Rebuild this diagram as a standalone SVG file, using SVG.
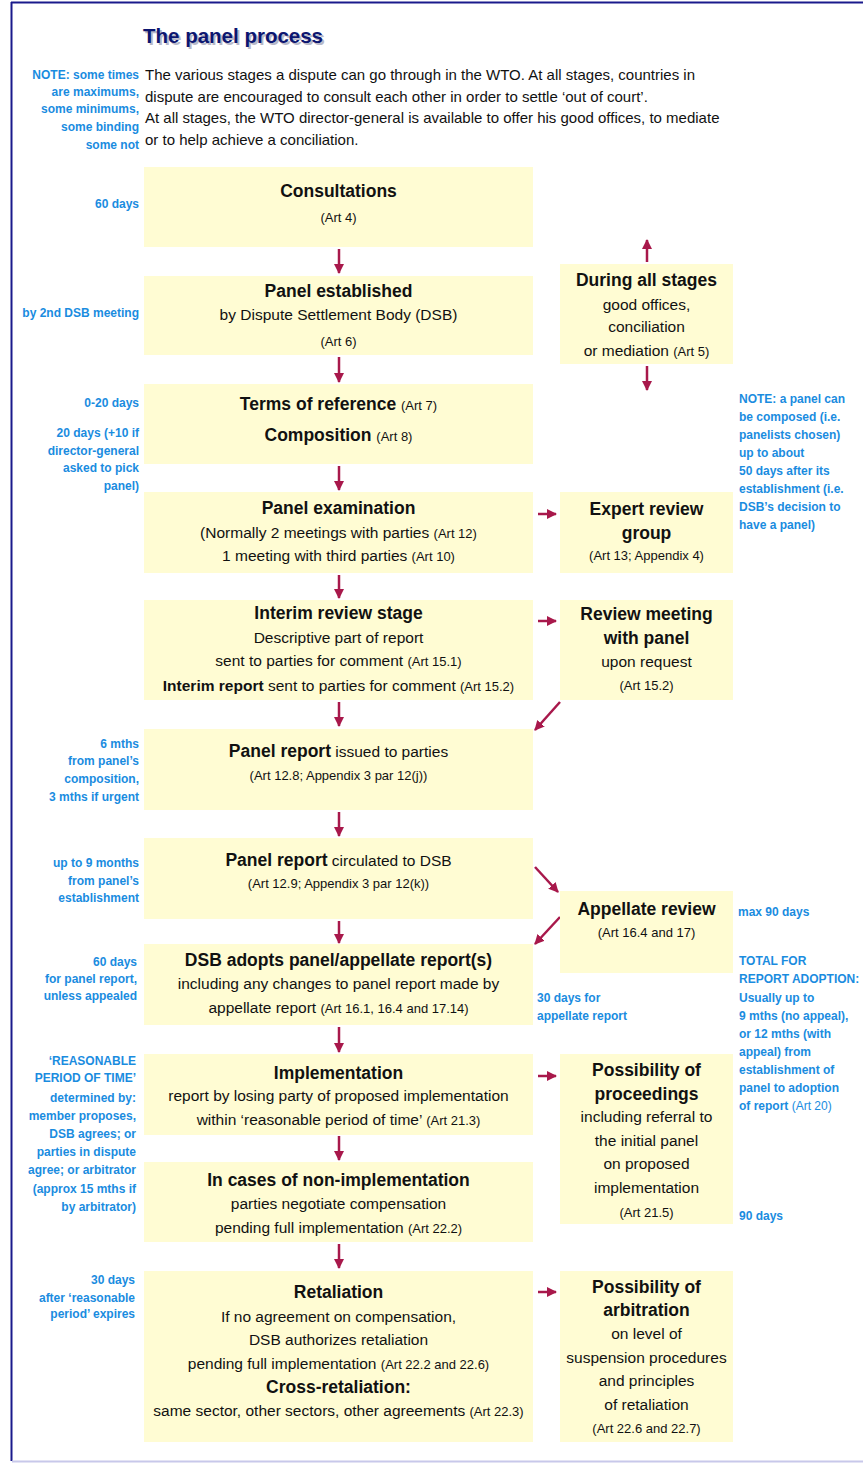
<svg xmlns="http://www.w3.org/2000/svg" width="863" height="1463" viewBox="0 0 863 1463">
<style>
.bx{fill:#FFFCD3}
.h{font-family:"Liberation Sans",Arial,sans-serif;font-weight:bold;font-size:17.5px;fill:#111;text-anchor:middle}
.t{font-family:"Liberation Sans",Arial,sans-serif;font-size:15.5px;fill:#111;text-anchor:middle}
.a{font-size:13px;font-weight:normal}
.b{font-weight:bold;font-size:17.5px}
.in{font-family:"Liberation Sans",Arial,sans-serif;font-size:15px;fill:#111}
.nl{font-family:"Liberation Sans",Arial,sans-serif;font-weight:bold;font-size:12px;fill:#1A8CDF;text-anchor:end}
.nr{font-family:"Liberation Sans",Arial,sans-serif;font-weight:bold;font-size:12px;fill:#1A8CDF;text-anchor:start}
.ar{stroke:#A8184B;stroke-width:2.5;fill:none;marker-end:url(#ah)}
</style>
<defs>
<marker id="ah" markerUnits="userSpaceOnUse" markerWidth="12" markerHeight="12" refX="9" refY="5" orient="auto">
<path d="M0,0 L10,5 L0,10 Z" fill="#A8184B"/>
</marker>
</defs>
<rect x="0" y="0" width="863" height="1463" fill="#ffffff"/>
<g id="frame">
<line x1="11" y1="2.5" x2="863" y2="2.5" stroke="#1A1A8C" stroke-width="2"/>
<line x1="11.5" y1="2" x2="11.5" y2="1461" stroke="#1A1A8C" stroke-width="2"/>
<line x1="12" y1="1461.5" x2="863" y2="1461.5" stroke="#C8C8EA" stroke-width="2"/>
</g>
<g id="title">
<text x="145" y="45" font-family="Liberation Sans,Arial,sans-serif" font-weight="bold" font-size="20.5" fill="#B8B8C8">The panel process</text>
<text x="143" y="43" font-family="Liberation Sans,Arial,sans-serif" font-weight="bold" font-size="20.5" fill="#0C1670">The panel process</text>
</g>
<g id="intro">
<text class="in" x="145" y="80">The various stages a dispute can go through in the WTO. At all stages, countries in</text>
<text class="in" x="145" y="102">dispute are encouraged to consult each other in order to settle ‘out of court’.</text>
<text class="in" x="145" y="123">At all stages, the WTO director-general is available to offer his good offices, to mediate</text>
<text class="in" x="145" y="145">or to help achieve a conciliation.</text>
<text class="nl" x="139" y="79">NOTE: some times</text>
<text class="nl" x="139" y="96">are maximums,</text>
<text class="nl" x="139" y="113">some minimums,</text>
<text class="nl" x="139" y="131">some binding</text>
<text class="nl" x="139" y="149">some not</text>
</g>
<g id="connectors">
<line class="ar" x1="339" y1="249" x2="339" y2="273"/>
<line class="ar" x1="339" y1="357" x2="339" y2="382"/>
<line class="ar" x1="339" y1="466" x2="339" y2="490"/>
<line class="ar" x1="339" y1="575" x2="339" y2="598"/>
<line class="ar" x1="339" y1="702" x2="339" y2="726"/>
<line class="ar" x1="339" y1="812" x2="339" y2="836"/>
<line class="ar" x1="339" y1="921" x2="339" y2="943"/>
<line class="ar" x1="339" y1="1027" x2="339" y2="1052"/>
<line class="ar" x1="339" y1="1136" x2="339" y2="1160"/>
<line class="ar" x1="339" y1="1244" x2="339" y2="1268"/>
<line class="ar" x1="647" y1="262" x2="647" y2="240"/>
<line class="ar" x1="647" y1="366" x2="647" y2="390"/>
<line class="ar" x1="538" y1="514" x2="556" y2="514"/>
<line class="ar" x1="538" y1="621" x2="556" y2="621"/>
<line class="ar" x1="560" y1="702" x2="535" y2="730"/>
<line class="ar" x1="535" y1="867" x2="558" y2="892"/>
<line class="ar" x1="560" y1="917" x2="535" y2="944"/>
<line class="ar" x1="538" y1="1076" x2="556" y2="1076"/>
<line class="ar" x1="538" y1="1292" x2="556" y2="1292"/>
</g>
<g id="consultations">
<rect class="bx" x="144" y="167" width="389" height="80"/>
<text class="h" x="338.5" y="197">Consultations</text>
<text class="t" x="338.5" y="222"><tspan class="a">(Art 4)</tspan></text>
</g>
<g id="panel-established">
<rect class="bx" x="144" y="276" width="389" height="79"/>
<text class="h" x="338.5" y="297">Panel established</text>
<text class="t" x="338.5" y="320">by Dispute Settlement Body (DSB)</text>
<text class="t" x="338.5" y="346"><tspan class="a">(Art 6)</tspan></text>
</g>
<g id="terms">
<rect class="bx" x="144" y="384" width="389" height="80"/>
<text class="h" x="338.5" y="410">Terms of reference <tspan class="a">(Art 7)</tspan></text>
<text class="h" x="338.5" y="441">Composition <tspan class="a">(Art 8)</tspan></text>
</g>
<g id="panel-examination">
<rect class="bx" x="144" y="492" width="389" height="81"/>
<text class="h" x="338.5" y="514">Panel examination</text>
<text class="t" x="338.5" y="538">(Normally 2 meetings with parties <tspan class="a">(Art 12)</tspan></text>
<text class="t" x="338.5" y="561">1 meeting with third parties <tspan class="a">(Art 10)</tspan></text>
</g>
<g id="interim-review">
<rect class="bx" x="144" y="600" width="389" height="100"/>
<text class="h" x="338.5" y="619">Interim review stage</text>
<text class="t" x="338.5" y="643">Descriptive part of report</text>
<text class="t" x="338.5" y="666">sent to parties for comment <tspan class="a">(Art 15.1)</tspan></text>
<text class="t" x="338.5" y="691"><tspan font-weight="bold">Interim report</tspan> sent to parties for comment <tspan class="a">(Art 15.2)</tspan></text>
</g>
<g id="panel-report-issued">
<rect class="bx" x="144" y="729" width="389" height="81"/>
<text class="t" x="338.5" y="757"><tspan class="b">Panel report</tspan> issued to parties</text>
<text class="t" x="338.5" y="780"><tspan class="a">(Art 12.8; Appendix 3 par 12(j))</tspan></text>
</g>
<g id="panel-report-circulated">
<rect class="bx" x="144" y="838" width="389" height="81"/>
<text class="t" x="338.5" y="866"><tspan class="b">Panel report</tspan> circulated to DSB</text>
<text class="t" x="338.5" y="888"><tspan class="a">(Art 12.9; Appendix 3 par 12(k))</tspan></text>
</g>
<g id="dsb-adopts">
<rect class="bx" x="144" y="944" width="389" height="81"/>
<text class="h" x="338.5" y="966">DSB adopts panel/appellate report(s)</text>
<text class="t" x="338.5" y="989">including any changes to panel report made by</text>
<text class="t" x="338.5" y="1013">appellate report <tspan class="a">(Art 16.1, 16.4 and 17.14)</tspan></text>
</g>
<g id="implementation">
<rect class="bx" x="144" y="1054" width="389" height="81"/>
<text class="h" x="338.5" y="1079">Implementation</text>
<text class="t" x="338.5" y="1101">report by losing party of proposed implementation</text>
<text class="t" x="338.5" y="1125">within ‘reasonable period of time’ <tspan class="a">(Art 21.3)</tspan></text>
</g>
<g id="non-implementation">
<rect class="bx" x="144" y="1162" width="389" height="80"/>
<text class="h" x="338.5" y="1186">In cases of non-implementation</text>
<text class="t" x="338.5" y="1209">parties negotiate compensation</text>
<text class="t" x="338.5" y="1233">pending full implementation <tspan class="a">(Art 22.2)</tspan></text>
</g>
<g id="retaliation">
<rect class="bx" x="144" y="1271" width="389" height="171"/>
<text class="h" x="338.5" y="1298">Retaliation</text>
<text class="t" x="338.5" y="1322">If no agreement on compensation,</text>
<text class="t" x="338.5" y="1345">DSB authorizes retaliation</text>
<text class="t" x="338.5" y="1369">pending full implementation <tspan class="a">(Art 22.2 and 22.6)</tspan></text>
<text class="h" x="338.5" y="1393">Cross-retaliation:</text>
<text class="t" x="338.5" y="1416">same sector, other sectors, other agreements <tspan class="a">(Art 22.3)</tspan></text>
</g>
<g id="during-all-stages">
<rect class="bx" x="560" y="264" width="173" height="100"/>
<text class="h" x="646.5" y="286">During all stages</text>
<text class="t" x="646.5" y="310">good offices,</text>
<text class="t" x="646.5" y="332">conciliation</text>
<text class="t" x="646.5" y="356">or mediation <tspan class="a">(Art 5)</tspan></text>
</g>
<g id="expert-review">
<rect class="bx" x="560" y="492" width="173" height="81"/>
<text class="h" x="646.5" y="515">Expert review</text>
<text class="h" x="646.5" y="539">group</text>
<text class="t" x="646.5" y="560"><tspan class="a">(Art 13; Appendix 4)</tspan></text>
</g>
<g id="review-meeting">
<rect class="bx" x="560" y="600" width="173" height="100"/>
<text class="h" x="646.5" y="620">Review meeting</text>
<text class="h" x="646.5" y="644">with panel</text>
<text class="t" x="646.5" y="667">upon request</text>
<text class="t" x="646.5" y="690"><tspan class="a">(Art 15.2)</tspan></text>
</g>
<g id="appellate-review">
<rect class="bx" x="560" y="891" width="173" height="82"/>
<text class="h" x="646.5" y="915">Appellate review</text>
<text class="t" x="646.5" y="937"><tspan class="a">(Art 16.4 and 17)</tspan></text>
</g>
<g id="possibility-proceedings">
<rect class="bx" x="560" y="1054" width="173" height="170"/>
<text class="h" x="646.5" y="1076">Possibility of</text>
<text class="h" x="646.5" y="1100">proceedings</text>
<text class="t" x="646.5" y="1122">including referral to</text>
<text class="t" x="646.5" y="1146">the initial panel</text>
<text class="t" x="646.5" y="1169">on proposed</text>
<text class="t" x="646.5" y="1193">implementation</text>
<text class="t" x="646.5" y="1217"><tspan class="a">(Art 21.5)</tspan></text>
</g>
<g id="possibility-arbitration">
<rect class="bx" x="560" y="1271" width="173" height="171"/>
<text class="h" x="646.5" y="1293">Possibility of</text>
<text class="h" x="646.5" y="1316">arbitration</text>
<text class="t" x="646.5" y="1339">on level of</text>
<text class="t" x="646.5" y="1363">suspension procedures</text>
<text class="t" x="646.5" y="1386">and principles</text>
<text class="t" x="646.5" y="1410">of retaliation</text>
<text class="t" x="646.5" y="1433"><tspan class="a">(Art 22.6 and 22.7)</tspan></text>
</g>
<g id="left-notes">
<text class="nl" x="139" y="208">60 days</text>
<text class="nl" x="139" y="317">by 2nd DSB meeting</text>
<text class="nl" x="139" y="407">0-20 days</text>
<text class="nl" x="139" y="437">20 days (+10 if</text>
<text class="nl" x="139" y="455">director-general</text>
<text class="nl" x="139" y="472">asked to pick</text>
<text class="nl" x="139" y="490">panel)</text>
<text class="nl" x="139" y="748">6 mths</text>
<text class="nl" x="139" y="765">from panel’s</text>
<text class="nl" x="139" y="783">composition,</text>
<text class="nl" x="139" y="801">3 mths if urgent</text>
<text class="nl" x="139" y="867">up to 9 months</text>
<text class="nl" x="139" y="885">from panel’s</text>
<text class="nl" x="139" y="902">establishment</text>
<text class="nl" x="137" y="966">60 days</text>
<text class="nl" x="137" y="983">for panel report,</text>
<text class="nl" x="137" y="1000">unless appealed</text>
<text class="nl" x="136" y="1065">‘REASONABLE</text>
<text class="nl" x="136" y="1082">PERIOD OF TIME’</text>
<text class="nl" x="136" y="1102">determined by:</text>
<text class="nl" x="136" y="1120">member proposes,</text>
<text class="nl" x="136" y="1138">DSB agrees; or</text>
<text class="nl" x="136" y="1156">parties in dispute</text>
<text class="nl" x="136" y="1174">agree; or arbitrator</text>
<text class="nl" x="136" y="1193">(approx 15 mths if</text>
<text class="nl" x="136" y="1211">by arbitrator)</text>
<text class="nl" x="135" y="1284">30 days</text>
<text class="nl" x="135" y="1302">after ‘reasonable</text>
<text class="nl" x="135" y="1318">period’ expires</text>
</g>
<g id="right-notes">
<text class="nr" x="739" y="403">NOTE: a panel can</text>
<text class="nr" x="739" y="421">be composed (i.e.</text>
<text class="nr" x="739" y="439">panelists chosen)</text>
<text class="nr" x="739" y="457">up to about</text>
<text class="nr" x="739" y="475">50 days after its</text>
<text class="nr" x="739" y="493">establishment (i.e.</text>
<text class="nr" x="739" y="511">DSB’s decision to</text>
<text class="nr" x="739" y="529">have a panel)</text>
<text class="nr" x="738" y="916">max 90 days</text>
<text class="nr" x="537" y="1002">30 days for</text>
<text class="nr" x="537" y="1020">appellate report</text>
<text class="nr" x="739" y="965">TOTAL FOR</text>
<text class="nr" x="739" y="983">REPORT ADOPTION:</text>
<text class="nr" x="739" y="1002">Usually up to</text>
<text class="nr" x="739" y="1020">9 mths (no appeal),</text>
<text class="nr" x="739" y="1038">or 12 mths (with</text>
<text class="nr" x="739" y="1056">appeal) from</text>
<text class="nr" x="739" y="1074">establishment of</text>
<text class="nr" x="739" y="1092">panel to adoption</text>
<text class="nr" x="739" y="1110">of report <tspan font-weight="normal">(Art 20)</tspan></text>
<text class="nr" x="739" y="1220">90 days</text>
</g>
</svg>
